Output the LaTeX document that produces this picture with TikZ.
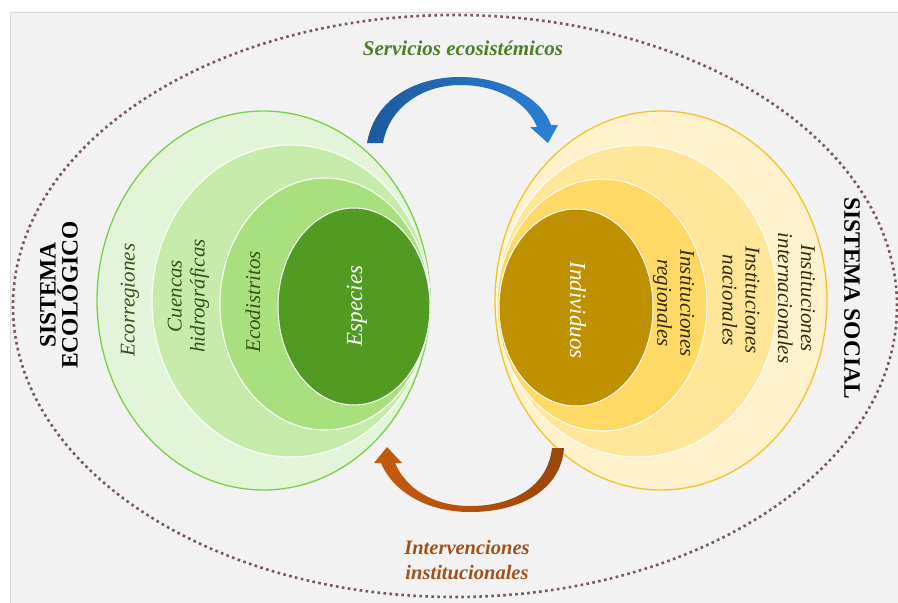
\documentclass[tikz,border=0pt]{standalone}
\usepackage{fontspec}
\setmainfont{Liberation Serif}
\definecolor{bgG}{HTML}{F2F2F2}
\definecolor{bdG}{HTML}{D9D9D9}
\definecolor{gOut}{HTML}{E2F5D9}
\definecolor{gBd}{HTML}{7DCF4B}
\definecolor{gTwo}{HTML}{C6ECAB}
\definecolor{gThree}{HTML}{A9E07E}
\definecolor{gFour}{HTML}{529B22}
\definecolor{yOut}{HTML}{FFF2CC}
\definecolor{yBd}{HTML}{F6C22B}
\definecolor{yTwo}{HTML}{FFE699}
\definecolor{yThree}{HTML}{FFD966}
\definecolor{yFour}{HTML}{BF9000}
\definecolor{gTxt}{HTML}{34521B}
\definecolor{yTxt}{HTML}{33290C}
\definecolor{dotC}{HTML}{7A5858}
\definecolor{bluL}{HTML}{1C5A9C}
\definecolor{bluR}{HTML}{2B80D6}
\definecolor{orL}{HTML}{C65B10}
\definecolor{orR}{HTML}{9B4509}
\definecolor{servC}{HTML}{4F7F2A}
\definecolor{intC}{HTML}{A0521D}
\begin{document}
\begin{tikzpicture}[x=1pt,y=-1pt,
  ring/.style={draw=white, line width=1pt},
  lbl/.style={inner sep=0pt, align=center, font=\fontsize{21}{23}\selectfont\itshape},
  glbl/.style={lbl, text=gTxt, rotate=90},
  ylbl/.style={lbl, text=yTxt, rotate=-90},
  syslbl/.style={inner sep=0pt, align=center, font=\fontsize{23.5}{22}\selectfont\bfseries, text=black}]
\useasboundingbox (0,0) rectangle (898,603);
\fill[white] (0,0) rectangle (898,603);
\filldraw[fill=bgG, draw=bdG, line width=1.5pt] (10.5,12.5) rectangle (910,615);
% outer dotted ellipse
\draw[dotC, line width=2.6pt, line cap=butt, dash pattern=on 2.6pt off 3.4pt] (455,306) ellipse [x radius=442pt, y radius=291pt];
% ecological ellipses
\filldraw[fill=gOut, draw=gBd, line width=1.3pt] (263.5,300.5) ellipse [x radius=166.5pt, y radius=189.5pt];
\filldraw[fill=gTwo, ring] (291,301) ellipse [x radius=139pt, y radius=156pt];
\filldraw[fill=gThree, ring] (325,304) ellipse [x radius=105pt, y radius=126pt];
\filldraw[fill=gFour, ring] (354,306.5) ellipse [x radius=76pt, y radius=98.5pt];
% social ellipses
\filldraw[fill=yOut, draw=yBd, line width=1.3pt] (661,300.5) ellipse [x radius=166pt, y radius=189.5pt];
\filldraw[fill=yTwo, ring] (637,301) ellipse [x radius=140pt, y radius=156pt];
\filldraw[fill=yThree, ring] (602,305) ellipse [x radius=105pt, y radius=126pt];
\filldraw[fill=yFour, ring] (576,307.5) ellipse [x radius=77pt, y radius=98.5pt];
% blue arrow
\shade[left color=bluL, right color=bluR]
  (367,143) .. controls (375,97) and (418,77) .. (460,77)
  .. controls (505,77) and (543,100) .. (551,125) -- (558,125) -- (548,143) -- (530,127) -- (537,127)
  .. controls (528,104) and (500,85) .. (460,85)
  .. controls (425,85) and (390,105) .. (383,143) -- cycle;
% orange arrow
\shade[left color=orL, right color=orR]
  (564,448) .. controls (561,490) and (520,512) .. (470,512)
  .. controls (425,512) and (392,490) .. (381,463) -- (374,463) -- (387,447) -- (402,463) -- (395,463)
  .. controls (406,488) and (432,506) .. (470,506)
  .. controls (515,506) and (548,485) .. (552,448) -- cycle;
% texts
\node[anchor=base, inner sep=0pt, text=servC, font=\fontsize{21}{23}\selectfont\bfseries\itshape] (serv) at (463,55) {Servicios ecosistémicos};
\node[inner sep=0pt, align=center, text=intC, font=\fontsize{20.5}{25}\selectfont\bfseries\itshape] (interv) at (467,560) {Intervenciones\\institucionales};
\node[syslbl, rotate=90] (seco) at (59,295) {SISTEMA\\ECOLÓGICO};
\node[syslbl, rotate=-90] (ssoc) at (852,298) {SISTEMA SOCIAL};
\node[glbl] (ecor) at (130,300) {Ecorregiones};
\node[glbl] (cuen) at (188.5,296) {Cuencas\\hidrográficas};
\node[glbl] (ecod) at (253,302) {Ecodistritos};
\node[glbl, text=white, font=\fontsize{23}{25}\selectfont\itshape] (espe) at (357,306) {Especies};
\node[ylbl, text=white, font=\fontsize{23}{25}\selectfont\itshape] (indi) at (578,310) {Individuos};
\node[ylbl] (ireg) at (673.5,303) {Instituciones\\regionales};
\node[ylbl] (inac) at (741,300) {Instituciones\\nacionales};
\node[ylbl] (iint) at (796.5,298) {Instituciones\\internacionales};
\end{tikzpicture}
\end{document}
